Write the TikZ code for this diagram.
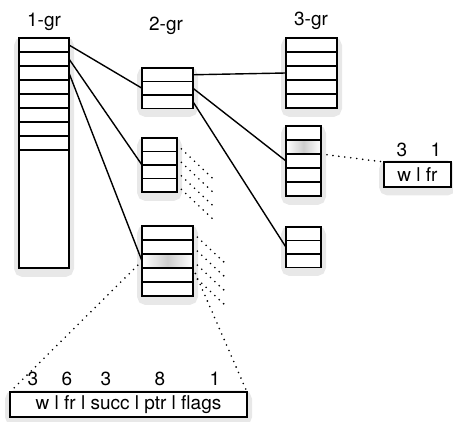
\documentclass[tikz,border=0pt]{standalone}
\usepackage{fontspec}
\setmainfont{TeX Gyre Heros}
\usetikzlibrary{calc}

\definecolor{hazeout}{RGB}{232,232,232}
\definecolor{hazein}{RGB}{196,196,196}
\definecolor{hotgray}{RGB}{205,205,205}

\tikzset{
  every node/.style={font=\fontsize{19}{22}\selectfont},
  haze/.style={fill=hazein, draw=hazeout, line width=8pt, rounded corners=5pt, inner sep=0pt},
  blk/.style={draw, line width=1.5pt, fill=white, inner sep=0pt, outer sep=0pt},
  cell/.style={draw, line width=1.5pt, inner sep=0pt, outer sep=0pt},
  hot/.style={cell, left color=white, right color=white, middle color=hotgray},
  link/.style={line width=1.4pt},
  fan/.style={line width=1.8pt, dash pattern=on 0pt off 6pt, line cap=round},
}

\begin{document}
\begin{tikzpicture}[x=1pt, y=-1pt]
  \useasboundingbox (0,0) rectangle (453,422);

  % shadows under the tables
  \node[haze, minimum width=52pt, minimum height=232pt] (sh1) at (44,157) {};
  \node[haze, minimum width=53pt, minimum height=42pt] (sh2a) at (167.5,92) {};
  \node[haze, minimum width=37pt, minimum height=56pt] (sh2b) at (159.5,169) {};
  \node[haze, minimum width=53pt, minimum height=72pt] (sh2c) at (167.5,265) {};
  \node[haze, minimum width=53pt, minimum height=72pt] (sh3a) at (311.5,77) {};
  \node[haze, minimum width=37pt, minimum height=72pt] (sh3b) at (303.5,165) {};
  \node[haze, minimum width=37pt, minimum height=42pt] (sh3c) at (303.5,251) {};
  \node[haze, minimum width=69pt, minimum height=27pt] (shs) at (417.5,178) {};
  \node[haze, minimum width=239pt, minimum height=27pt] (shb) at (128.5,408) {};

  % group headings
  \node (h1) at (44,22) {1-gr};
  \node (h2) at (166,26) {2-gr};
  \node (h3) at (311,21) {3-gr};

  % 1-gr table
  \node[blk, minimum width=50pt, minimum height=230pt] (g1) at (44,153) {};
  \foreach \i in {1,...,8} {
    \node[cell, minimum width=50pt, minimum height=14pt] (p\i) at (44,{31+14*\i}) {};
  }

  % 2-gr tables
  \node[blk, minimum width=51pt, minimum height=40.5pt] (g2a) at (167.5,88.25) {};
  \foreach \i in {1,...,3} {
    \node[cell, minimum width=51pt, minimum height=13.5pt] (a\i) at (167.5,{61.25+13.5*\i}) {};
  }
  \node[blk, minimum width=35pt, minimum height=54pt] (g2b) at (159.5,165) {};
  \foreach \i in {1,...,4} {
    \node[cell, minimum width=35pt, minimum height=13.5pt] (b\i) at (159.5,{131.25+13.5*\i}) {};
  }
  \node[blk, minimum width=51pt, minimum height=70pt] (g2c) at (167.5,261) {};
  \foreach \i in {1,2,4,5} {
    \node[cell, minimum width=51pt, minimum height=14pt] (c\i) at (167.5,{219+14*\i}) {};
  }
  \node[hot, minimum width=51pt, minimum height=14pt] (c3) at (167.5,261) {};

  % 3-gr tables
  \node[blk, minimum width=51pt, minimum height=70pt] (g3a) at (311.5,73) {};
  \foreach \i in {1,...,5} {
    \node[cell, minimum width=51pt, minimum height=14pt] (d\i) at (311.5,{31+14*\i}) {};
  }
  \node[blk, minimum width=35pt, minimum height=70pt] (g3b) at (303.5,161) {};
  \foreach \i in {1,3,4,5} {
    \node[cell, minimum width=35pt, minimum height=14pt] (e\i) at (303.5,{119+14*\i}) {};
  }
  \node[hot, minimum width=35pt, minimum height=14pt] (e2) at (303.5,147) {};
  \node[blk, minimum width=35pt, minimum height=40.5pt] (g3c) at (303.5,247.25) {};
  \foreach \i in {1,...,3} {
    \node[cell, minimum width=35pt, minimum height=13.5pt] (f\i) at (303.5,{220.25+13.5*\i}) {};
  }

  % entry layouts
  \node[blk, minimum width=67pt, minimum height=25pt] (small) at (417.5,174.5) {w l fr};
  \node[anchor=base] (s1) at (402,157) {3};
  \node[anchor=base] (s2) at (436,157) {1};

  \node[blk, minimum width=237pt, minimum height=25pt] (big) at (128.5,404.5) {w l fr l succ l ptr l flags};
  \foreach \x/\t [count=\k] in {33/3,67/6,106/3,160/8,215/1} {
    \node[anchor=base] (w\k) at (\x,385) {\t};
  }

  % pointers
  \draw[link] (p1.east) -- (g2a.west);
  \draw[link] (p2.east) -- (g2b.west);
  \draw[link] (p3.east) -- (g2c.west);
  \draw[link] (a1.east) -- (g3a.west);
  \draw[link] (a2.east) -- (g3b.west);
  \draw[link] (a3.east) -- (g3c.west);

  % dotted fans
  \foreach \i in {1,...,4} {
    \coordinate (bf\i) at ($(b\i.east)+(35,33)$);
    \draw[fan] (b\i.east) -- (bf\i);
  }
  \foreach \i in {1,2,3,4} {
    \coordinate (cf\i) at ($(c\i.east)+(33,31)$);
    \draw[fan] (c\i.east) -- (cf\i);
  }
  \draw[fan] (c3.west) -- (big.north west);
  \draw[fan] (c3.south east) -- (big.north east);
  \draw[fan] (e2.south east) -- (small.north west);
\end{tikzpicture}
\end{document}
